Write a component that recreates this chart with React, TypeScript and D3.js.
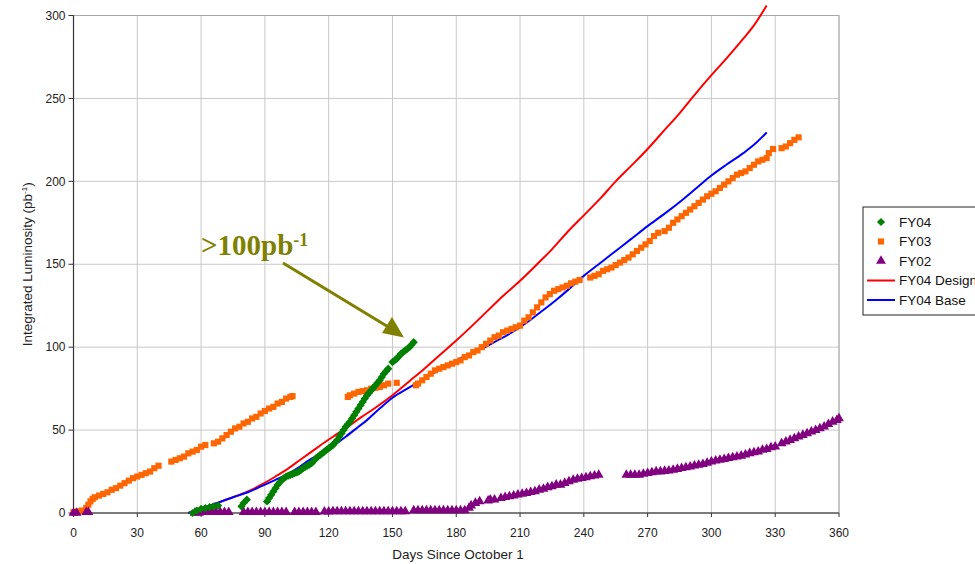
import React from "react";
import * as d3 from "d3";

type P = [number, number];

const xTicks = [0, 30, 60, 90, 120, 150, 180, 210, 240, 270, 300, 330, 360];
const yTicks = [0, 50, 100, 150, 200, 250, 300];

const fy04: P[] = [
  [56, 0], [58, 1.5], [60, 2.5], [62, 3], [64, 3.5], [66, 4], [68, 4.5],
  [79, 4], [80, 6], [81.5, 8],
  [91, 7], [92, 9], [93, 11], [94, 13], [95, 15], [96, 17], [97, 18.5], [98, 20], [99, 21], [100, 22],
  [101, 22.5], [102, 23], [103, 23.5], [104, 24], [105, 24.5], [106, 25], [107, 26], [108, 27],
  [109, 27.8], [110, 28.5], [111, 29.2], [112, 30], [113, 31.5], [114, 33], [115, 34], [116, 35],
  [117, 36], [118, 37], [119, 38], [120, 39], [121, 40], [122, 41], [123, 42.5], [124, 44], [125, 46],
  [126, 48], [127, 50], [128, 52], [129, 53.5], [130, 55], [131, 57], [132, 59], [133, 61], [134, 63],
  [135, 65], [136, 67], [137, 69], [138, 71], [139, 72.5], [140, 74], [141, 75.5], [142, 77],
  [143, 78.5], [144, 80], [145, 82], [146, 84], [147, 85.5], [148, 87], [150, 91], [151, 92],
  [152, 93], [153, 94.5], [154, 96], [155, 97], [156, 98], [157, 99], [158, 100], [159, 101.5], [160, 103],
];

const fy03: P[] = [
  [0, 0.5], [2, 1], [4, 1.5], [6, 3], [7, 5], [8, 7], [9, 8.5], [10, 9.5], [12, 10.5], [14, 11.5],
  [16, 12.5], [18, 14], [20, 15], [22, 16.5], [24, 18], [26, 19.5], [28, 21], [30, 22], [32, 23],
  [34, 24], [36, 25], [38, 27], [40, 28.5], [46, 31], [48, 32], [50, 33], [52, 34], [54, 36],
  [56, 37], [58, 38], [60, 40], [62, 41], [66, 42], [68, 43], [70, 45], [72, 47], [74, 49], [76, 51],
  [78, 52], [80, 54], [82, 55], [84, 57], [86, 58], [88, 60], [90, 61.5], [92, 63], [94, 64],
  [96, 66], [98, 67], [100, 69], [102, 70], [103, 70.5],
  [129, 70], [130, 71], [132, 72], [134, 73], [136, 73.5], [138, 74], [140, 75], [142, 75.5],
  [144, 76], [146, 77], [148, 78], [152, 78.5],
  [161, 77], [162, 78], [164, 80], [166, 82], [168, 84], [170, 86], [172, 87], [174, 88], [176, 89],
  [178, 90], [180, 91], [182, 92], [184, 94], [186, 95], [188, 97], [190, 98], [192, 100],
  [194, 102], [196, 104], [198, 106], [200, 107], [202, 109], [204, 110], [206, 111], [208, 112],
  [210, 113], [212, 116], [214, 118], [216, 121], [218, 124], [220, 127], [222, 130], [224, 132],
  [226, 134], [228, 135], [230, 136], [232, 137], [234, 138.5], [236, 139.5], [238, 140.5],
  [243, 142], [245, 143], [247, 144], [249, 146], [251, 147], [253, 148], [255, 149.5], [257, 151],
  [259, 152.5], [261, 154], [263, 156], [265, 158], [267, 160], [269, 162], [271, 164], [273, 167],
  [275, 169], [278, 170], [280, 172], [282, 175], [284, 177], [286, 179], [288, 181], [290, 183],
  [292, 185], [294, 187], [296, 189], [298, 191], [300, 192.5], [302, 194], [304, 196], [306, 198],
  [308, 200], [310, 202], [312, 204], [314, 205], [316, 206], [318, 208], [320, 210], [322, 212],
  [324, 213], [326, 214], [327, 217], [329, 219.5],
  [333, 220], [335, 221], [337, 223], [339, 225], [341, 226.5],
];

const fy02: P[] = [
  [0, 0], [1.5, 0], [6, 0.5], [7, 0.5],
  [57, 0], [59, 0], [61, 0.5], [63, 0.5], [65, 0.5], [67, 0.5], [69, 0.5], [71, 0.5], [73, 0.5],
  [80, 0.5], [82, 0.5], [84, 0.5], [86, 0.5], [88, 0.5], [90, 0.5], [92, 0.5], [94, 0.5], [96, 0.5],
  [98, 0.5], [100, 0.5],
  [104, 0.5], [106, 0.5], [108, 0.5], [110, 0.5], [112, 0.5], [114, 0.5],
  [118, 0.8], [120, 0.8], [122, 1], [124, 1], [126, 1], [128, 1], [130, 1], [132, 1], [134, 1],
  [136, 1], [138, 1], [140, 1], [142, 1], [144, 1], [146, 1], [148, 1], [150, 1], [152, 1],
  [154, 1], [156, 1],
  [160, 1.5], [162, 1.5], [164, 1.5], [166, 1.5], [168, 1.5], [170, 1.5], [172, 1.5], [174, 1.5],
  [176, 1.5], [178, 1.5], [180, 1.5], [182, 1.5], [184, 1.5], [186, 3], [187, 4.5], [189, 6], [191, 7],
  [195, 7.5], [196, 8], [198, 8],
  [201, 9], [203, 9.5], [205, 10], [207, 10.5], [209, 11], [211, 11.5], [213, 12], [215, 12.5],
  [217, 13], [219, 14], [221, 14.5], [223, 15.5], [225, 16], [227, 17], [229, 17], [231, 18],
  [233, 19], [235, 20], [237, 20.5], [239, 21], [241, 21.5], [243, 22], [245, 22.5], [247, 23],
  [260, 23], [262, 23], [264, 23], [266, 23], [268, 23.5], [270, 24], [272, 24.5], [274, 25],
  [276, 25], [278, 25.3], [280, 25.5], [282, 26], [284, 26.5], [286, 27], [288, 27.5], [290, 28],
  [292, 28.5], [294, 29], [296, 29.5], [298, 30.2],
  [300, 31], [302, 31.5], [304, 32], [306, 32.5], [308, 33], [310, 33.5], [312, 34], [314, 34.5],
  [316, 35.2], [318, 36], [320, 36.5], [322, 37], [324, 38], [326, 38.5], [328, 39.5], [330, 40],
  [333, 42], [335, 43], [337, 44], [339, 45], [341, 46], [343, 47], [345, 48], [347, 49], [349, 50],
  [351, 51], [353, 52], [355, 53.5], [357, 55], [359, 56], [360, 57],
];

const fy04Design: P[] = [
  [54, 0], [60, 2.5], [67, 5.8], [75, 9.5], [82, 13], [89, 17.5], [95, 22], [100, 26], [106, 31.5],
  [112, 37], [118, 42.5], [122, 46], [128, 51], [135, 57.5], [142, 63.5], [150, 71], [158, 79.5],
  [165, 87], [172, 95], [180, 104], [190, 116], [200, 128.5], [210, 140], [218, 150], [225, 159],
  [232, 169], [240, 179.5], [248, 190], [255, 200], [262, 209], [270, 219.5], [278, 231],
  [285, 241], [292, 252], [300, 264], [307, 274], [315, 286], [320, 294], [326, 306],
];

const fy04Base: P[] = [
  [54, 0], [60, 2.5], [67, 5.8], [75, 9.5], [82, 12.5], [89, 16.5], [95, 20], [100, 23],
  [106, 27.5], [111, 32], [116, 35.5], [121, 39.5], [128, 46], [134, 52], [138, 56], [144, 63],
  [150, 69.5], [157, 75], [165, 81], [172, 86.5], [180, 92], [188, 97], [195, 101], [200, 104.5],
  [205, 108], [210, 112], [215, 116.5], [220, 121.5], [227, 128.5], [233, 135], [240, 143], [247, 150],
  [255, 158], [262, 165], [270, 173], [278, 180.5], [286, 188.5], [293, 196], [300, 203.5],
  [307, 210], [315, 217], [320, 222], [326, 229.5],
];

const legendLabels = ["FY04", "FY03", "FY02", "FY04 Design", "FY04 Base"];

const GREEN = "#008000";
const ORANGE = "#ff6600";
const PURPLE = "#800080";
const RED = "#ff0000";
const BLUE = "#0000ff";
const OLIVE = "#808000";

export default function App() {
  const x = d3.scaleLinear().domain([0, 360]).range([73.5, 839]);
  const y = d3.scaleLinear().domain([0, 300]).range([513, 15.5]);
  const line = d3.line<P>().x((d) => x(d[0])).y((d) => y(d[1])).curve(d3.curveMonotoneX);
  const diamond = d3.symbol().type(d3.symbolSquare).size(34)()!;
  const square = d3.symbol().type(d3.symbolSquare).size(38)()!;
  const tri = d3.symbol().type(d3.symbolTriangle).size(42)()!;
  const font = "'Liberation Sans', Arial, sans-serif";
  const x0 = x.range()[0], x1 = x.range()[1];
  const yb = y(0), yt = y(300);

  const legendX = 863, legendY = 207;
  const rowY = (i: number) => legendY + 15 + i * 19.5;

  return (
    <svg width={975} height={564} style={{ position: "absolute", left: 0, top: 0, background: "#fff" }} fontFamily={font}>
      <rect x={0} y={0} width={975} height={564} fill="#fff" />
      {xTicks.map((t) => (
        <line key={"gx" + t} x1={x(t)} x2={x(t)} y1={yt} y2={yb} stroke="#c8c8c8" strokeWidth={1} />
      ))}
      {yTicks.map((t) => (
        <line key={"gy" + t} x1={x0} x2={x1} y1={y(t)} y2={y(t)} stroke="#c8c8c8" strokeWidth={1} />
      ))}
      <rect x={x0} y={yt} width={x1 - x0} height={yb - yt} fill="none" stroke="#a8a8a8" strokeWidth={1} />
      <line x1={x0} x2={x0} y1={yt} y2={yb} stroke="#333" strokeWidth={1.2} />
      <line x1={x0} x2={x1} y1={yb} y2={yb} stroke="#333" strokeWidth={1.2} />
      {yTicks.map((t) => (
        <g key={"ty" + t}>
          <line x1={x0 - 5} x2={x0} y1={y(t)} y2={y(t)} stroke="#333" />
          <text x={x0 - 8} y={y(t)} dy="0.35em" textAnchor="end" fontSize={12} fill="#222">{t}</text>
        </g>
      ))}
      {xTicks.map((t) => (
        <g key={"tx" + t}>
          <line x1={x(t)} x2={x(t)} y1={yb} y2={yb + 4} stroke="#333" />
          <text x={x(t)} y={537} textAnchor="middle" fontSize={12} fill="#222">{t}</text>
        </g>
      ))}
      <text x={458} y={559} textAnchor="middle" fontSize={13.5} fill="#222">Days Since October 1</text>
      <text transform={`translate(32,${(yt + yb) / 2}) rotate(-90)`} textAnchor="middle" fontSize={13.5} fill="#222">
        Integrated Luminosity (pb<tspan fontSize={8} dy={-5}>-1</tspan><tspan dy={5}>)</tspan>
      </text>

      <path d={line(fy04Design)!} fill="none" stroke={RED} strokeWidth={2} />
      <path d={line(fy04Base)!} fill="none" stroke={BLUE} strokeWidth={2} />

      {fy03.map((d, i) => (
        <path key={"o" + i} d={square} transform={`translate(${x(d[0])},${y(d[1])})`} fill={ORANGE} />
      ))}
      {fy02.map((d, i) => (
        <path key={"p" + i} d={tri} transform={`translate(${x(d[0])},${y(d[1])})`} fill={PURPLE} />
      ))}
      {fy04.map((d, i) => (
        <path key={"g" + i} d={diamond} transform={`translate(${x(d[0])},${y(d[1])}) rotate(45)`} fill={GREEN} />
      ))}

      <line x1={283} y1={263} x2={390} y2={328} stroke={OLIVE} strokeWidth={3} />
      <path d="M404,337.5 L382,333 L392,317 Z" fill={OLIVE} />
      <text x={201} y={255} fontFamily="'Liberation Serif', 'Times New Roman', serif" fontWeight="bold" fontSize={29} fill={OLIVE}>
        &gt;100pb<tspan fontSize={18} dy={-9}>-1</tspan>
      </text>

      <rect x={legendX} y={legendY} width={130} height={108} fill="#fff" stroke="#222" strokeWidth={1} />
      {legendLabels.map((lab, i) => (
        <text key={"l" + i} x={899} y={rowY(i)} dy="0.35em" fontSize={13.5} fill="#111">{lab}</text>
      ))}
      <path d={diamond} transform={`translate(881,${rowY(0)}) rotate(45)`} fill={GREEN} />
      <path d={square} transform={`translate(881,${rowY(1)})`} fill={ORANGE} />
      <path d={tri} transform={`translate(881,${rowY(2)})`} fill={PURPLE} />
      <line x1={867} x2={895} y1={rowY(3)} y2={rowY(3)} stroke={RED} strokeWidth={2} />
      <line x1={867} x2={895} y1={rowY(4)} y2={rowY(4)} stroke={BLUE} strokeWidth={2} />
    </svg>
  );
}
